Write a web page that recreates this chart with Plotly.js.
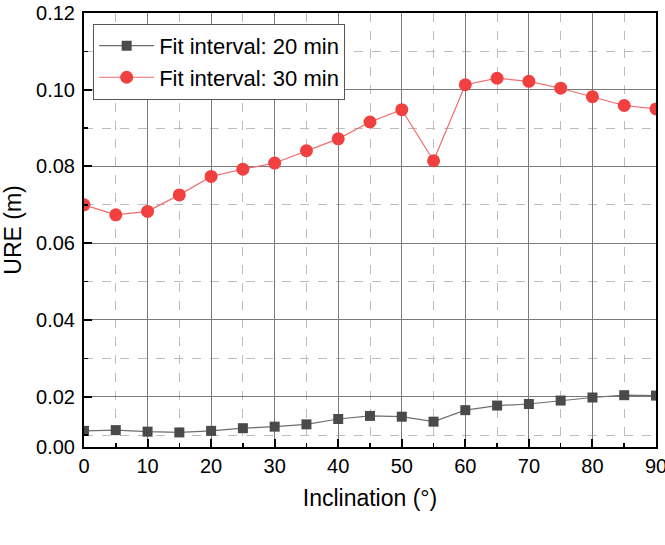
<!DOCTYPE html>
<html>
<head>
<meta charset="utf-8">
<script src="https://cdn.plot.ly/plotly-3.0.1.min.js"></script>
<style>html,body{margin:0;padding:0;background:#fff;}#chart{width:665px;height:545px;}</style>
</head>
<body>
<div id="chart"></div>
<script>
const inclination = [0,5,10,15,20,25,30,35,40,45,50,55,60,65,70,75,80,85,90];
const ure20 = [0.0111,0.0113,0.0109,0.0107,0.0111,0.0118,0.0122,0.0128,0.0142,0.0150,0.0148,0.0135,0.0165,0.0177,0.0181,0.0190,0.0198,0.0204,0.0203];
const ure30 = [0.0700,0.0674,0.0683,0.0726,0.0774,0.0793,0.0809,0.0841,0.0872,0.0916,0.0948,0.0815,0.1013,0.1030,0.1022,0.1004,0.0982,0.0959,0.0950];
const seriesNames = ['Fit interval: 20 min','Fit interval: 30 min'];
const yTickVals = [0.0069,0.02,0.04,0.06,0.08,0.10,0.12];
const yTickText = ['0.00','0.02','0.04','0.06','0.08','0.10','0.12'];
const xTickVals = [0,10,20,30,40,50,60,70,80,90];

const FONT = 'Liberation Sans, Arial, sans-serif';
const traces = [
  {x: inclination, y: ure20, name: seriesNames[0], mode: 'lines+markers', type: 'scatter',
   line: {color: '#6e6e6e', width: 1.2},
   marker: {symbol: 'square', size: 10, color: '#4a4a4a'}},
  {x: inclination, y: ure30, name: seriesNames[1], mode: 'lines+markers', type: 'scatter',
   line: {color: '#f26b6b', width: 1.2},
   marker: {symbol: 'circle', size: 13, color: '#f04040'}}
];
const layout = {
  width: 665, height: 545,
  margin: {l: 84, r: 9, t: 13, b: 98},
  paper_bgcolor: '#fff', plot_bgcolor: '#fff',
  font: {family: FONT, color: '#000'},
  showlegend: true,
  legend: {x: 0.016, y: 0.975, xanchor: 'left', yanchor: 'top',
    bgcolor: '#fff', bordercolor: '#555', borderwidth: 1,
    font: {family: FONT, size: 22, color: '#000'}, itemwidth: 55,
    tracegroupgap: 0},
  xaxis: {
    range: [0, 90], tickmode: 'array', tickvals: xTickVals,
    showline: true, mirror: true, linecolor: '#000', linewidth: 2,
    ticks: 'inside', ticklen: 8, tickwidth: 2, tickcolor: '#000',
    showgrid: true, gridcolor: '#7a7a7a', gridwidth: 1,
    zeroline: false, ticklabeloverflow: 'allow',
    tickfont: {family: FONT, size: 20, color: '#000'},
    title: {text: 'Inclination (°)', font: {family: FONT, size: 23, color: '#000'}, standoff: 14},
    minor: {tickmode: 'linear', tick0: 5, dtick: 10, ticks: 'inside', ticklen: 4, tickwidth: 1.5, tickcolor: '#000',
      showgrid: true, gridcolor: '#bdbdbd', griddash: 'dash', gridwidth: 1}
  },
  yaxis: {
    range: [0.0069, 0.12], tickmode: 'array', tickvals: yTickVals, ticktext: yTickText,
    showline: true, mirror: true, linecolor: '#000', linewidth: 2,
    ticks: 'inside', ticklen: 8, tickwidth: 2, tickcolor: '#000',
    showgrid: true, gridcolor: '#7a7a7a', gridwidth: 1,
    zeroline: false, ticklabelstandoff: 3,
    tickfont: {family: FONT, size: 20, color: '#000'},
    title: {text: 'URE (m)', font: {family: FONT, size: 23, color: '#000'}, standoff: 8},
    minor: {tickmode: 'linear', tick0: 0.01, dtick: 0.02, ticks: 'inside', ticklen: 4, tickwidth: 1.5, tickcolor: '#000',
      showgrid: true, gridcolor: '#bdbdbd', griddash: 'dash', gridwidth: 1}
  }
};
Plotly.newPlot('chart', traces, layout, {displayModeBar: false, staticPlot: true});
</script>
</body>
</html>
